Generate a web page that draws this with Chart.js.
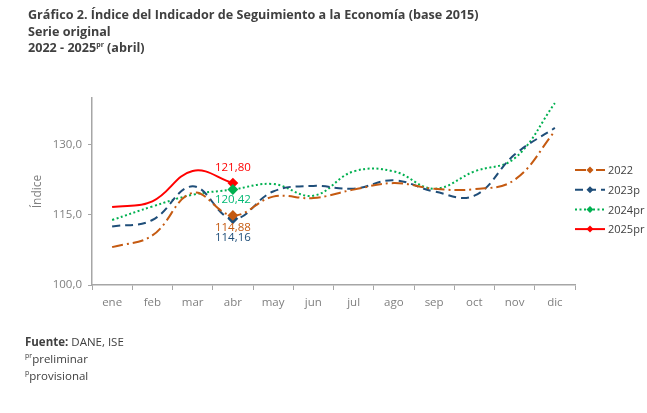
<!DOCTYPE html>
<html>
<head>
<meta charset="utf-8">
<script src="https://cdn.jsdelivr.net/npm/chart.js@4"></script>
<style>
body { margin: 0; background: #fff; font-family: "Open Sans", sans-serif; color: #404040; }
#wrap { position: relative; width: 647px; height: 413px; }
#title { position: absolute; left: 28px; top: 7px; font-weight: bold; font-size: 12.6px; line-height: 16.5px; }
#foot { position: absolute; left: 25px; top: 333px; font-size: 11.5px; line-height: 17px; }
sup { font-size: 7px; vertical-align: 5px; line-height: 0; }
canvas { position: absolute; left: 0; top: 0; }
</style>
</head>
<body>
<div id="wrap">
<canvas id="iseChart" width="647" height="413"></canvas>
<div id="title">Gráfico 2. Índice del Indicador de Seguimiento a la Economía (base 2015)<br>Serie original<br>2022 - 2025<sup>pr</sup> (abril)</div>
<div id="foot"><b>Fuente:</b> DANE, ISE<br><sup>pr</sup>preliminar<br><sup>p</sup>provisional</div>
</div>
<script>
var months = ["ene", "feb", "mar", "abr", "may", "jun", "jul", "ago", "sep", "oct", "nov", "dic"]
var y2022 = [108.1, 110.6, 119.7, 114.88, 118.9, 118.6, 120.4, 121.8, 120.6, 120.5, 122.5, 132.9]
var y2023 = [112.5, 113.9, 121.1, 114.16, 120.0, 121.2, 120.6, 122.4, 120.0, 119.1, 127.9, 133.6]
var y2024 = [113.9, 116.8, 119.3, 120.42, 121.6, 119.1, 124.3, 124.3, 120.6, 124.3, 127.1, 138.9]
var y2025 = [116.7, 117.9, 124.4, 121.80]
var yTicks = [100, 115, 130]

var series = [
    { label: "2022", data: y2022, color: "#C55A11", dash: [11, 4, 2, 4], txt: "114,88", dy: 9 },
    { label: "2023p", data: y2023, color: "#1F4E79", dash: [8, 5], txt: "114,16", dy: 19 },
    { label: "2024pr", data: y2024, color: "#00B050", dash: [2, 2.5], txt: "120,42", dy: 10 },
    { label: "2025pr", data: y2025, color: "#FF0000", dash: [], txt: "121,80", dy: -15 }
]

function fmt(v) {
    return v.toFixed(1).replace(".", ",")
}

var datasets = series.map(function (s) {
    return {
        label: s.label,
        data: s.data,
        borderColor: s.color,
        backgroundColor: s.color,
        borderWidth: 2,
        borderDash: s.dash,
        tension: 0.4,
        pointStyle: "rectRot",
        pointRadius: s.data.map(function (v, i) { return i == 3 ? 4 : 0 }),
        pointHoverRadius: 0
    }
})

// labels on the april points and the legend on the right
var extras = {
    id: "extras",
    afterDatasetsDraw: function (chart) {
        var ctx = chart.ctx
        var xs = chart.scales.x, ys = chart.scales.y
        ctx.save()
        ctx.font = "11.5px 'Open Sans'"
        ctx.textAlign = "center"
        ctx.textBaseline = "middle"
        series.forEach(function (s) {
            var px = xs.getPixelForValue(3)
            var py = ys.getPixelForValue(s.data[3])
            var ty = s.dy
            if (s.label == "2022" || s.label == "2023p") ty = ys.getPixelForValue(114.16) - py + s.dy
            ctx.fillStyle = s.label == "2024pr" ? "#00B873" : s.color
            ctx.fillText(s.txt, px, py + ty)
        })
        // legend
        ctx.textAlign = "left"
        ctx.font = "11px 'Open Sans'"
        series.forEach(function (s, i) {
            var ly = 170 + i * 19.7
            ctx.strokeStyle = s.color
            ctx.lineWidth = 2
            ctx.setLineDash(s.dash)
            ctx.beginPath()
            ctx.moveTo(575, ly)
            ctx.lineTo(605, ly)
            ctx.stroke()
            ctx.setLineDash([])
            ctx.fillStyle = s.color
            ctx.beginPath()
            ctx.moveTo(590, ly - 3.5)
            ctx.lineTo(593.5, ly)
            ctx.lineTo(590, ly + 3.5)
            ctx.lineTo(586.5, ly)
            ctx.closePath()
            ctx.fill()
            ctx.fillStyle = "#404040"
            ctx.fillText(s.label, 608, ly + 1)
        })
        ctx.restore()
    }
}

var ctx = document.getElementById("iseChart")

var iseChart = new Chart(ctx, {
    type: "line",
    data: { labels: months, datasets: datasets },
    options: {
        responsive: false,
        animation: false,
        layout: { padding: { left: 30, top: 98, right: 72, bottom: 100 } },
        plugins: { legend: { display: false }, tooltip: { enabled: false } },
        scales: {
            x: {
                offset: true,
                grid: { display: true, drawOnChartArea: false, offset: true, color: "#a6a6a6", tickLength: 5 },
                border: { color: "#a6a6a6", width: 1.5 },
                ticks: { color: "#7f7f7f", font: { size: 11.5, family: "Open Sans" }, padding: 6 },
                afterFit: function (scale) { scale.height = 28 }
            },
            y: {
                min: 100,
                max: 140,
                grid: { display: true, drawOnChartArea: false, color: "#a6a6a6", tickLength: 4 },
                border: { color: "#a6a6a6", width: 1.5 },
                ticks: { color: "#7f7f7f", font: { size: 11.5, family: "Open Sans" }, padding: 6, callback: function (v) { return fmt(v) } },
                afterBuildTicks: function (scale) {
                    scale.ticks = yTicks.map(function (v) { return { value: v } })
                },
                title: { display: true, text: "Índice", color: "#7f7f7f", font: { size: 12, family: "Open Sans" }, padding: 0 },
                afterFit: function (scale) { scale.width = 62 }
            }
        }
    },
    plugins: [extras]
})
</script>
</body>
</html>
